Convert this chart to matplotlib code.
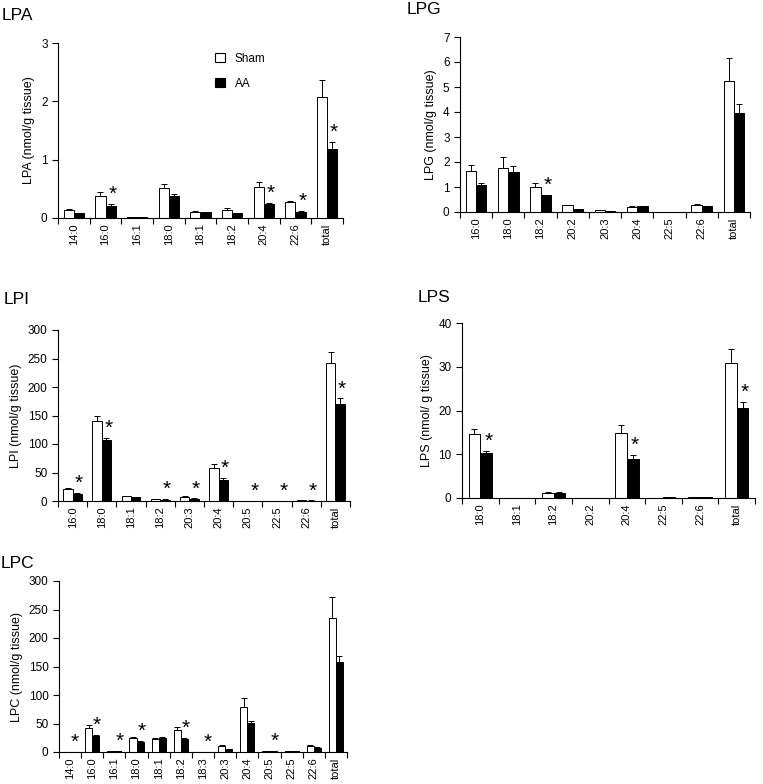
import numpy as np
import matplotlib
matplotlib.use("Agg")
import matplotlib.pyplot as plt
from matplotlib.patches import Patch

plt.rcParams['font.family'] = ['Liberation Sans', 'DejaVu Sans']

# ---- LPA ----
lpa_cats = ["14:0", "16:0", "16:1", "18:0", "18:1", "18:2", "20:4", "22:6", "total"]
lpa_sham = [0.13, 0.38, 0.01, 0.51, 0.11, 0.14, 0.54, 0.27, 2.08]
lpa_sham_err = [0.03, 0.06, 0.0, 0.08, 0.01, 0.03, 0.08, 0.02, 0.28]
lpa_aa = [0.08, 0.20, 0.01, 0.38, 0.10, 0.08, 0.24, 0.11, 1.18]
lpa_aa_err = [0.01, 0.04, 0.0, 0.04, 0.01, 0.01, 0.02, 0.01, 0.12]
lpa_sig = ["16:0", "20:4", "22:6", "total"]

# ---- LPG ----
lpg_cats = ["16:0", "18:0", "18:2", "20:2", "20:3", "20:4", "22:5", "22:6", "total"]
lpg_sham = [1.63, 1.77, 1.00, 0.27, 0.07, 0.22, 0.0, 0.30, 5.25]
lpg_sham_err = [0.25, 0.45, 0.15, 0.03, 0.01, 0.03, 0.0, 0.04, 0.90]
lpg_aa = [1.08, 1.60, 0.67, 0.13, 0.04, 0.24, 0.0, 0.24, 3.97]
lpg_aa_err = [0.08, 0.25, 0.03, 0.01, 0.01, 0.02, 0.0, 0.02, 0.37]
lpg_sig = ["18:2"]

# ---- LPI ----
lpi_cats = ["16:0", "18:0", "18:1", "18:2", "20:3", "20:4", "20:5", "22:5", "22:6", "total"]
lpi_sham = [21, 141, 8, 3, 7, 58, 0.5, 0.5, 1.5, 242]
lpi_sham_err = [1.5, 8, 1, 0.5, 1, 7, 0, 0, 0.3, 19]
lpi_aa = [12, 107, 7, 2.5, 3.5, 36, 0.3, 0.3, 0.8, 170]
lpi_aa_err = [1.5, 4, 0.5, 0.5, 1, 4, 0, 0, 0.1, 10]
lpi_sig = ["16:0", "18:0", "18:2", "20:3", "20:4", "20:5", "22:5", "22:6", "total"]

# ---- LPS ----
lps_cats = ["18:0", "18:1", "18:2", "20:2", "20:4", "22:5", "22:6", "total"]
lps_sham = [14.6, 0.0, 1.2, 0.1, 14.8, 0.1, 0.2, 30.9]
lps_sham_err = [1.1, 0.0, 0.1, 0.0, 1.9, 0.0, 0.0, 3.2]
lps_aa = [10.2, 0.0, 1.2, 0.1, 9.0, 0.15, 0.2, 20.6]
lps_aa_err = [0.6, 0.0, 0.1, 0.0, 0.8, 0.0, 0.0, 1.4]
lps_sig = ["18:0", "20:4", "total"]

# ---- LPC ----
lpc_cats = ["14:0", "16:0", "16:1", "18:0", "18:1", "18:2", "18:3", "20:3", "20:4", "20:5", "22:5", "22:6", "total"]
lpc_sham = [0.3, 42, 2, 25, 23, 38, 0.5, 10, 79, 2, 1.5, 10, 235]
lpc_sham_err = [0, 5, 0.3, 2, 2, 6, 0, 1.5, 15, 0.3, 0.2, 2, 37]
lpc_aa = [0.2, 28, 1, 18, 25, 22, 0.3, 5, 51, 1, 1, 7, 158]
lpc_aa_err = [0, 2, 0.2, 2, 2, 2, 0, 0.5, 4, 0.2, 0.1, 1, 11]
lpc_sig = ["14:0", "16:0", "16:1", "18:0", "18:2", "18:3", "20:5"]

W, H = 763, 784
fig = plt.figure(figsize=(W / 100, H / 100), dpi=100)


def px_axes(left, right, bottom, top):
    return fig.add_axes([left / W, 1 - bottom / H, (right - left) / W, (bottom - top) / H])


def panel(ax, cats, sham, sham_err, aa, aa_err, sig, ymax, ystep, ylabel):
    x = np.arange(len(cats))
    bw = 0.32
    zeros = np.zeros(len(cats))
    ax.bar(x - bw / 2, sham, bw, color="white", edgecolor="black", linewidth=0.7,
           yerr=[zeros, sham_err], capsize=2.5, error_kw=dict(elinewidth=0.7, capthick=0.7))
    ax.bar(x + bw / 2, aa, bw, color="black", edgecolor="black", linewidth=0.7,
           yerr=[zeros, aa_err], capsize=2.5, error_kw=dict(elinewidth=0.7, capthick=0.7))
    for c in sig:
        i = cats.index(c)
        ax.text(x[i] + bw / 2 + 0.06, aa[i] + aa_err[i], "*",
                ha="center", va="bottom", fontsize=15)
    ax.set_xlim(-0.5, len(cats) - 0.5)
    ax.set_ylim(0, ymax)
    ax.set_yticks(np.arange(0, ymax + ystep / 2, ystep))
    ax.set_xticks(x)
    ax.set_xticklabels(cats, rotation=90, fontsize=8)
    ax.set_xticks(np.arange(-0.5, len(cats)), minor=True)
    ax.tick_params(axis="x", which="major", length=0, pad=4)
    ax.tick_params(axis="x", which="minor", length=4, width=0.8, direction="out")
    ax.tick_params(axis="y", length=4, width=0.8, direction="out", labelsize=8.5)
    ax.set_ylabel(ylabel, fontsize=9)
    for s in ["top", "right"]:
        ax.spines[s].set_visible(False)
    for s in ["left", "bottom"]:
        ax.spines[s].set_linewidth(0.8)


ax1 = px_axes(58, 343, 218, 43)
panel(ax1, lpa_cats, lpa_sham, lpa_sham_err, lpa_aa, lpa_aa_err, lpa_sig, 3, 1,
      "LPA (nmol/g tissue)")
handles = [Patch(facecolor="white", edgecolor="black", linewidth=0.8),
           Patch(facecolor="black", edgecolor="black", linewidth=0.8)]
fig.legend(handles, ["Sham", "AA"], loc="upper left", bbox_to_anchor=(204 / W, 1 - 42 / H),
           frameon=False, fontsize=8.5, handlelength=0.9, handleheight=0.9,
           labelspacing=1.1, handletextpad=0.8)

ax2 = px_axes(460, 750, 212, 37)
panel(ax2, lpg_cats, lpg_sham, lpg_sham_err, lpg_aa, lpg_aa_err, lpg_sig, 7, 1,
      "LPG (nmol/g tissue)")

ax3 = px_axes(58, 350, 501, 330)
panel(ax3, lpi_cats, lpi_sham, lpi_sham_err, lpi_aa, lpi_aa_err, lpi_sig, 300, 50,
      "LPI (nmol/g tissue)")

ax4 = px_axes(462, 755, 498, 323)
panel(ax4, lps_cats, lps_sham, lps_sham_err, lps_aa, lps_aa_err, lps_sig, 40, 10,
      "LPS (nmol/ g tissue)")

ax5 = px_axes(59, 347, 752, 581)
panel(ax5, lpc_cats, lpc_sham, lpc_sham_err, lpc_aa, lpc_aa_err, lpc_sig, 300, 50,
      "LPC (nmol/g tissue)")

for label, xp, yp in [("LPA", 2, 15), ("LPG", 407, 10), ("LPI", 4, 299),
                      ("LPS", 418, 298), ("LPC", 1, 563)]:
    fig.text(xp / W, 1 - yp / H, label, fontsize=12.5, ha="left", va="center")

fig.savefig("out.png", dpi=100)
